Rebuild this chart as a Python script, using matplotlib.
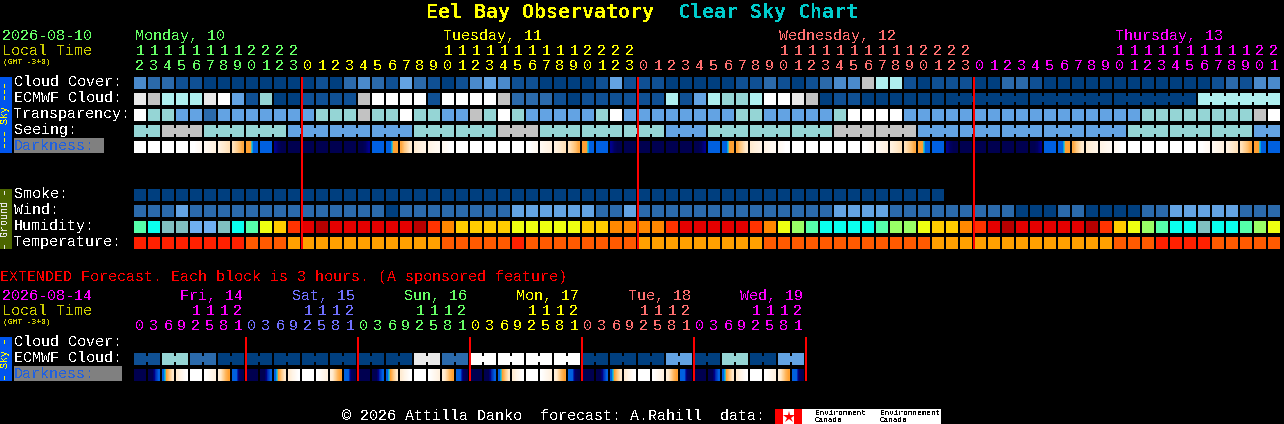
# Eel Bay Observatory - Clear Sky Chart
import matplotlib
matplotlib.use("Agg")
import matplotlib.pyplot as plt
from matplotlib.colors import LinearSegmentedColormap
from matplotlib.patches import Rectangle

# 1. data ------------------------------------------------------------------------------------------------/
# sky rows use one code per block: 0 = clear ... 9 = overcast, None = no forecast
cloud_cover = [3,2,2,1,1,0,0,0,0,0,0,0, 0,1,0,2,3,2,1,4,2,1,0,1,3,4,3,1,1,0,0,0,0,1,4,1,
               1,1,0,0,0,0,0,1,1,2,1,0,1,2,3,3,7,6,6,1,0,1,1,1, 0,0,2,2,1,0,0,0,0,0,0,0,0,0,0,0,0,1,2,1,3,3]
ecmwf_cloud = [8,7,6,6,6,8,9,4,1,5,0,0, 1,1,1,1,7,9,9,9,9,1,9,9,9,9,7,2,2,2,1,0,1,1,1,1,
               1,1,6,1,4,6,5,5,6,9,9,8,7,0,1,1,0,0,0,0,0,0,0,0, 0,0,0,0,0,0,0,0,0,0,0,0,0,0,0,0,6,6,6,6,6,6]
ecmwf_spans = [1]*58 + [6,6,6,6]
transparency = [9,5,5,4,4,2,4,4,4,4,4,4, 4,5,5,5,7,5,5,9,5,5,4,4,7,5,9,5,4,4,4,4,4,5,9,4,
                4,4,4,4,4,4,4,5,5,4,4,4,4,4,5,9,9,9,9,4,4,4,4,4, 4,4,4,4,4,4,4,4,4,4,4,4,5,5,5,5,5,5,5,5,7,9]
seeing = [5,5,7,7,7,5,5,5,5,5,5,4, 4,4,4,4,4,4,4,4,5,5,5,5,5,5,7,7,7,5,5,5,5,5,5,5,
          5,5,4,4,4,5,5,5,5,5,5,5,5,5,7,7,7,7,7,7,4,4,4,4, 4,4,4,4,4,4,4,4,4,4,4,5,5,5,5,5,5,5,5,5,4,4]
seeing_spans = [2] + [3]*26 + [2]
smoke = [0]*58 + [None]*24
wind = [2,2,2,4,2,2,2,2,2,2,2,2, 2,2,2,2,2,2,0,2,2,2,2,2,2,2,2,4,4,4,4,4,4,2,2,4,
        2,2,2,2,2,2,2,2,2,2,2,2,2,2,4,4,4,4,2,2,2,2,2,2, 2,2,2,0,0,0,2,2,0,0,0,0,2,2,4,4,4,4,4,2,2,2]
# humidity codes index HUMID_COLORS
humidity = [5,6,7,7,8,8,7,6,5,3,2,1, 0,9,0,0,0,0,0,0,9,1,10,2,2,2,2,3,3,3,3,3,2,2,10,10,
            10,10,1,0,0,0,0,0,1,10,3,4,5,6,6,6,6,5,4,4,3,2,2,10, 1,0,9,0,0,0,0,0,9,1,2,3,4,5,6,6,7,6,6,5,4,3]
# temperature codes index TEMP_COLORS
temperature = [0,0,0,0,0,0,0,0,1,1,1,2, 2,2,2,2,2,2,2,2,2,2,1,1,1,1,1,0,1,1,1,1,1,1,1,1,
               2,2,2,2,2,2,2,2,2,1,1,1,1,1,1,1,1,1,1,1,1,2,2,2, 2,2,2,2,2,2,2,2,2,2,1,1,1,0,0,0,0,1,1,1,1,1]

# darkness profiles: four levels sampled across one block
WH = (8, 8, 8, 8)
NV = (0, 0, 0, 0)
E1 = (8, 8, 7.7, 7.5)
E2 = (7.5, 7.2, 7, 6.8)
E3 = (6.8, 6.4, 6, 5.8)
E4 = (5.8, 5.3, 4.8, 4.2)
E5 = (4, 4, 2, 2)
E6 = (2, 2, 2, 2)
E7 = (1, 0.3, 0, 0)
M1 = (0, 0, 0.3, 1)
M2 = (2, 2, 2, 2)
M3 = (2, 2, 4, 4)
M4 = (4.2, 5, 5.6, 6.2)
M5 = (6.3, 6.6, 6.8, 7)
M6 = (7, 7.2, 7.4, 7.5)
M7 = (7.5, 7.7, 8, 8)
darkness = [WH,WH,WH,WH,E1,E2,E3,E4,E5,E6,E7,NV, NV,NV,NV,NV,M1,M2,M3,M4,M5,M6,M7,WH,
            WH,WH,WH,WH,E1,E2,E3,E4,E5,E6,E7,NV, NV,NV,NV,NV,M1,M2,M3,M4,M5,M6,M7,WH,
            WH,WH,WH,WH,E1,E2,E3,E4,E5,E6,E7,NV, NV,NV,NV,NV,M1,M2,M3,M4,M5,M6,M7,WH,
            WH,WH,WH,WH,E1,E2,E3,E4,E5,E6]

# extended forecast: 3 hour blocks
X1 = (0, 0, 1.4, 2)
X2 = (2, 4, 5, 6)
X3 = (6.4, 7, 7.5, 8)
X5 = (8, 7.6, 7.2, 6.8)
X6 = (6.5, 5.5, 4.6, 4)
X7 = (2, 2, 0.3, 0)
ext_cloud = [1,1,5,5,2,2,0,0, 0,0,0,0,0,0,0,0, 0,0,0,0,8,8,2,2,
             9,9,9,9,9,9,9,9, 0,0,0,0,0,0,4,4, 0,0,5,5,0,0,4,4]
ext_spans = [2]*24
ext_darkness = [NV,X1,X2,X3,WH,X5,X6,X7, NV,X1,X2,X3,WH,X5,X6,X7, NV,X1,X2,X3,WH,X5,X6,X7,
                NV,X1,X2,X3,WH,X5,X6,X7, NV,X1,X2,X3,WH,X5,X6,X7, NV,X1,X2,X3,WH,X5,X6,X7]

# hour labels
main_hours = [12,13,14,15,16,17,18,19,20,21,22,23,
              0,1,2,3,4,5,6,7,8,9,10,11,12,13,14,15,16,17,18,19,20,21,22,23,
              0,1,2,3,4,5,6,7,8,9,10,11,12,13,14,15,16,17,18,19,20,21,22,23,
              0,1,2,3,4,5,6,7,8,9,10,11,12,13,14,15,16,17,18,19,20,21]
main_days = ["Monday, 10", "Tuesday, 11", "Wednesday, 12", "Thursday, 13"]
main_day_starts = [0, 22, 46, 70]
main_midnights = [12, 36, 60]
ext_hours = [0,3,6,9,12,15,18,21]*6
ext_days = ["Fri, 14", "Sat, 15", "Sun, 16", "Mon, 17", "Tue, 18", "Wed, 19"]

# 2. styles ----------------------------------------------------------------------------------------------/
SKY_COLORS = ["#003F7F","#0F5094","#2B6AAB","#4A8ACB","#63A3E3","#95D5D5","#AFEFEF","#C2C2C2","#E9E9E9","#FFFFFF"]
HUMID_COLORS = ["#E40000","#FF3300","#FFCC00","#EEFF11","#99FF66","#55FFAA","#0AFFEE","#80C0C0","#6FAFF0","#B80000","#FF8800"]
TEMP_COLORS = ["#FF2000","#FF5A00","#FFA000"]
DAY_COLORS = ["#66FF66","#FFFF00","#FF7070","#FF00FF"]
EXT_DAY_COLORS = ["#FF00FF","#7070FF","#66FF66","#FFFF00","#FF7070","#FF00FF"]
DARK_CMAP = LinearSegmentedColormap.from_list("darkness", ["#000050","#00008C","#0060E0","#00C8E8","#FFA030",
                                                          "#FFC880","#FFE8C8","#FFF4E6","#FFFFFF"])
MONO = "Liberation Mono"
RED = "#FF0000"
X0, PITCH, SIZE = 134, 14, 12
LABEL_PT, TINY_PT, TITLE_PT = 10.8, 5.8, 14.4

plt.rcParams["text.antialiased"] = False
fig = plt.figure(figsize=(12.84, 4.24), dpi=100, facecolor="black")
ax = fig.add_axes([0, 0, 1, 1])
ax.set_facecolor("black")
ax.axis("off")

# 3. functions -------------------------------------------------------------------------------------------/
def block(x, y, w, h, color):
    ax.add_patch(Rectangle((x, y), w, h, facecolor=color, edgecolor="none", antialiased=False))

def label(x, y, s, color="white", size=LABEL_PT, **kw):
    ax.text(x, y, s, color=color, fontsize=size, family=MONO, va="baseline", **kw)

# row of separate blocks, spans join neighbours with a notched bridge
def block_row(values, y, colors=SKY_COLORS, spans=None):
    for i, v in enumerate(values):
        if v is not None:
            block(X0 + i*PITCH, y, SIZE, SIZE, colors[v])
    if spans:
        i = 0
        for n in spans:
            for j in range(i, i + n - 1):
                block(X0 + j*PITCH + SIZE, y + 3, PITCH - SIZE, SIZE - 6, colors[values[j]])
            i += n

def dark_row(values, y):
    for i, v in enumerate(values):
        x = X0 + i*PITCH
        ax.imshow([list(v)], extent=(x, x + SIZE, y + SIZE, y), cmap=DARK_CMAP, vmin=0, vmax=8,
                  interpolation="bilinear", aspect="auto", zorder=1)

def side_bar(y0, y1, color, text, text_color):
    block(0, y0, 12, y1 - y0, color)
    ax.text(5.5, (y0 + y1)/2, text, color=text_color, fontsize=7.2, family=MONO, rotation=90,
            ha="center", va="center")

# 4. main forecast ---------------------------------------------------------------------------------------/
ax.text(426, 18, "Eel Bay Observatory", color="#FFFF00", fontsize=TITLE_PT, family="DejaVu Sans Mono", weight="bold")
ax.text(678, 18, "Clear Sky Chart", color="#00CCCC", fontsize=TITLE_PT, family="DejaVu Sans Mono", weight="bold")

label(2, 40, "2026-08-10", DAY_COLORS[0])
label(2, 55, "Local Time", "#CCCC00")
label(3, 64, "(GMT -3+0)", "#CCCC00", TINY_PT)

for name, start, color in zip(main_days, main_day_starts, DAY_COLORS):
    label(X0 + start*PITCH + 1, 40, name, color)

day = 0
for i, h in enumerate(main_hours):
    if i in main_midnights:
        day += 1
    xc = X0 + i*PITCH + 6
    label(xc, 70, str(h % 10), DAY_COLORS[day], ha="center")
    if h >= 10:
        label(xc, 55, str(h//10), DAY_COLORS[day], ha="center")

for name, y in zip(["Cloud Cover:", "ECMWF Cloud:", "Transparency:", "Seeing:"], [86, 102, 118, 134]):
    label(14, y, name)
block(14, 138, 90, 15, "#808080")
label(14, 150, "Darkness:", "#2060E0")
for name, y in zip(["Smoke:", "Wind:", "Humidity:", "Temperature:"], [198, 214, 230, 246]):
    label(14, y, name)

block_row(cloud_cover, 77)
block_row(ecmwf_cloud, 93, spans=ecmwf_spans)
block_row(transparency, 109)
block_row(seeing, 125, spans=seeing_spans)
dark_row(darkness, 141)
block_row(smoke, 189)
block_row(wind, 205)
block_row(humidity, 221, HUMID_COLORS)
block_row(temperature, 237, TEMP_COLORS)

side_bar(77, 153, "#0055EE", "\u2013\u2013\u2013 Sky \u2013\u2013\u2013", "#FFFF00")
side_bar(189, 249, "#4C6600", "\u2013 Ground \u2013", "#E8E8E8")

for m in main_midnights:
    block(X0 + m*PITCH - 1, 77, 2, 172, RED)

# 5. extended forecast -----------------------------------------------------------------------------------/
label(0, 281, "EXTENDED Forecast. Each block is 3 hours. (A sponsored feature)", RED)
label(2, 300, "2026-08-14", "#FF00FF")
label(2, 315, "Local Time", "#CCCC00")
label(3, 324, "(GMT -3+0)", "#CCCC00", TINY_PT)

for d, (name, color) in enumerate(zip(ext_days, EXT_DAY_COLORS)):
    label(180 + d*112, 300, name, color)

for i, h in enumerate(ext_hours):
    xc = X0 + i*PITCH + 6
    color = EXT_DAY_COLORS[i//8]
    label(xc, 330, str(h % 10), color, ha="center")
    if h >= 10:
        label(xc, 315, str(h//10), color, ha="center")

label(14, 346, "Cloud Cover:")
label(14, 362, "ECMWF Cloud:")
block(14, 366, 108, 15, "#808080")
label(14, 378, "Darkness:", "#2060E0")

block_row(ext_cloud, 353, spans=ext_spans)
dark_row(ext_darkness, 369)
side_bar(337, 381, "#0055EE", "\u2013 Sky \u2013", "#FFFF00")

for d in range(1, 7):
    block(X0 + d*8*PITCH - 1, 337, 2, 44, RED)

# 6. footer ----------------------------------------------------------------------------------------------/
label(342, 420, "\u00a9 2026 Attilla Danko  forecast: A.Rahill  data:")
block(775, 409, 166, 15, "white")
block(775, 409, 8, 15, RED)
block(794, 409, 8, 15, RED)
ax.plot([788.5], [416.5], marker="*", color=RED, markersize=9, markeredgewidth=0)
for x, word in [(815, "Environment"), (880, "Environnement")]:
    label(x, 415, word, "black", 5.6)
    label(x, 422.5, "Canada", "black", 5.6)

ax.set_xlim(0, 1284)
ax.set_ylim(424, 0)
fig.savefig("out.png", dpi=100, facecolor="black")
